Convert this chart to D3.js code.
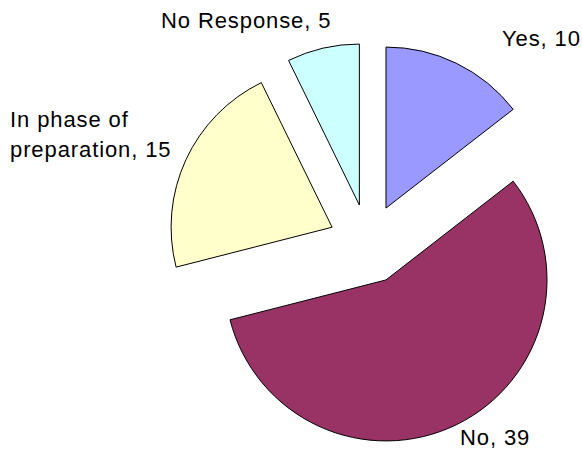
<!DOCTYPE html>
<html>
<head>
<meta charset="utf-8">
<script src="https://cdn.jsdelivr.net/npm/d3@7"></script>
<style>
  html, body { margin: 0; padding: 0; background: #fff; }
  svg { display: block; }
  text { font-family: "Liberation Sans", Arial, Helvetica, sans-serif; font-size: 22px; fill: #000; letter-spacing: 0.9px; }
</style>
</head>
<body>
<svg id="chart" width="582" height="449"></svg>
<script>
// Survey answers, clockwise from twelve o'clock
const categories = ["Yes", "No", "In phase of preparation", "No Response"];
const counts = [10, 39, 15, 5];
const colors = ["#9999FF", "#993366", "#FFFFCC", "#CCFFFF"];
// Label text lines per slice
const labelLines = [["Yes, 10"], ["No, 39"], ["In phase of", "preparation, 15"], ["No Response, 5"]];

// Layout
const width = 582, height = 449;
const cx = 368.4, cy = 244;
const radius = 161;
const explode = 40;
const lineHeight = 30;
// Label anchor (left x, first baseline y) per slice
const labelPos = [[502, 46], [460, 445], [10, 127], [161, 28]];

const svg = d3.select("#chart");
const g = svg.append("g").attr("transform", `translate(${cx},${cy})`);

const pie = d3.pie().sort(null).value(d => d.value).startAngle(0).endAngle(2 * Math.PI);
const arc = d3.arc().innerRadius(0).outerRadius(radius);

const data = categories.map((c, i) => ({ name: c, value: counts[i], color: colors[i], lines: labelLines[i], pos: labelPos[i] }));
const arcs = pie(data);

g.selectAll("path.slice")
  .data(arcs)
  .join("path")
  .attr("class", "slice")
  .attr("d", arc)
  .attr("fill", d => d.data.color)
  .attr("stroke", "#000")
  .attr("stroke-width", 1)
  .attr("stroke-linejoin", "miter")
  .attr("transform", d => {
    const mid = (d.startAngle + d.endAngle) / 2;
    return `translate(${explode * Math.sin(mid)},${-explode * Math.cos(mid)})`;
  });

const labels = svg.selectAll("text.label")
  .data(arcs)
  .join("text")
  .attr("class", "label")
  .attr("x", d => d.data.pos[0])
  .attr("y", d => d.data.pos[1]);

labels.selectAll("tspan")
  .data(d => d.data.lines.map((t, i) => ({ t, i, x: d.data.pos[0] })))
  .join("tspan")
  .attr("x", d => d.x)
  .attr("dy", d => d.i === 0 ? 0 : lineHeight)
  .text(d => d.t);
</script>
</body>
</html>
